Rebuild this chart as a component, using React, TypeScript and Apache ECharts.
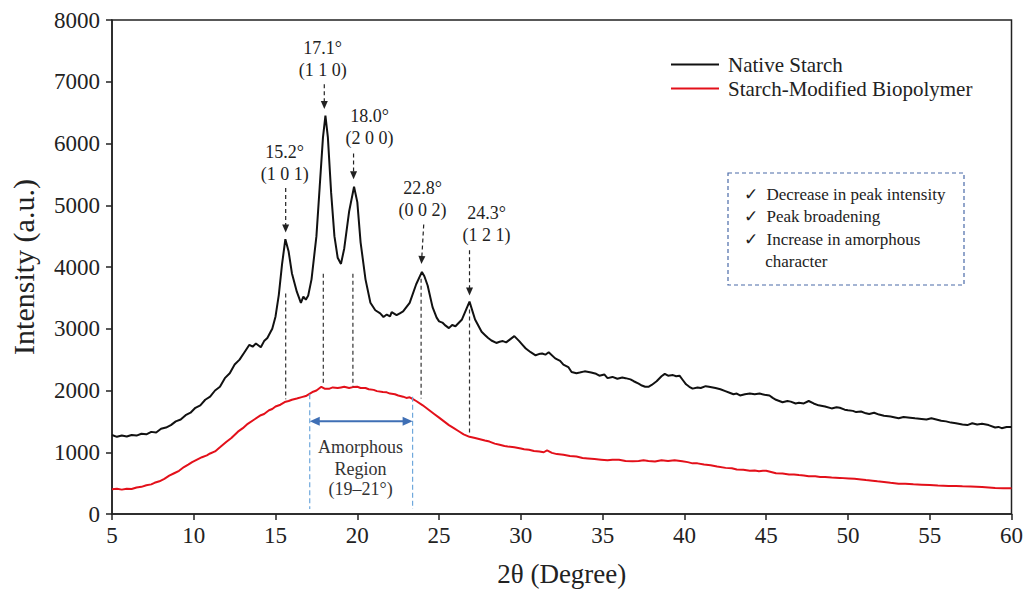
import React, { useEffect, useRef } from "react";
import * as echarts from "echarts";

// 2θ (degree), intensity (a.u.)
const nativeStarch: [number, number][] = [
  [5, 1280], [5.3, 1250], [5.6, 1270], [5.9, 1255], [6.2, 1280], [6.5, 1270], [6.8, 1300], [7.1, 1290],
  [7.4, 1330], [7.7, 1320], [8, 1380], [8.3, 1400], [8.6, 1440], [8.9, 1500], [9.2, 1530], [9.5, 1600],
  [9.8, 1640], [10.1, 1720], [10.4, 1760], [10.7, 1850], [11, 1900], [11.3, 2000], [11.6, 2060],
  [11.9, 2200], [12.2, 2280], [12.5, 2420], [12.8, 2500], [13.1, 2620], [13.4, 2740], [13.6, 2710],
  [13.8, 2760], [14.1, 2700], [14.3, 2800], [14.5, 2850], [14.7, 2950], [14.8, 3000], [15.0, 3200],
  [15.2, 3550], [15.4, 4050], [15.6, 4450], [15.8, 4250], [16.0, 3900], [16.3, 3600], [16.55, 3420],
  [16.7, 3520], [16.85, 3470], [17.0, 3540], [17.2, 3800], [17.5, 4500], [17.7, 5300], [17.9, 6100], [18.05, 6450],
  [18.2, 6100], [18.4, 5200], [18.6, 4500], [18.8, 4150], [19.0, 4050], [19.2, 4300], [19.5, 4900],
  [19.8, 5300], [20.0, 5050], [20.2, 4400], [20.5, 3800], [20.8, 3420], [21.1, 3300], [21.4, 3250],
  [21.6, 3190], [21.8, 3230], [22.0, 3200], [22.1, 3270], [22.4, 3220], [22.6, 3250], [22.8, 3280], [23.2, 3420], [23.6, 3720], [23.95, 3920],
  [24.1, 3850], [24.3, 3700], [24.6, 3350], [24.85, 3180], [25.0, 3120], [25.2, 3100], [25.4, 3050], [25.6, 3010], [25.8, 3060], [26.0, 3040], [26.4, 3150],
  [26.86, 3440], [27.2, 3150], [27.6, 2950], [27.8, 2900], [28.0, 2850], [28.2, 2810], [28.5, 2770], [28.7, 2790], [28.9, 2800], [29.1, 2780], [29.3, 2820],
  [29.6, 2880], [29.9, 2800], [30.1, 2740], [30.3, 2680], [30.6, 2620], [30.9, 2570], [31.1, 2590], [31.3, 2600], [31.5, 2580], [31.7, 2620], [32.1, 2520],
  [32.4, 2480], [32.6, 2420], [32.9, 2380], [33.1, 2300], [33.4, 2280], [33.6, 2290], [33.9, 2310], [34.3, 2290], [34.6, 2270], [34.8, 2240], [35.1, 2260], [35.3, 2200], [35.6, 2220], [35.9, 2190],
  [36.2, 2210], [36.4, 2200], [36.7, 2180], [36.9, 2150], [37.2, 2110], [37.4, 2080], [37.6, 2060], [37.8, 2060], [38.0, 2090], [38.3, 2150], [38.6, 2230], [38.8, 2270], [39.0, 2240], [39.3, 2250],
  [39.5, 2230], [39.7, 2240], [39.9, 2170], [40.1, 2100], [40.3, 2060], [40.5, 2030], [40.8, 2050], [41.0, 2040], [41.3, 2070], [41.5, 2060], [41.9, 2040], [42.2, 2020], [42.5, 1990],
  [42.8, 1960], [43.0, 1940], [43.2, 1950], [43.4, 1920], [43.7, 1940], [44.0, 1950], [44.3, 1940], [44.6, 1950], [44.9, 1930], [45.2, 1920], [45.4, 1880], [45.6, 1850], [45.8, 1830], [46.0, 1810],
  [46.3, 1830], [46.5, 1820], [46.8, 1790], [47.0, 1800], [47.3, 1790], [47.6, 1830], [47.9, 1790], [48.2, 1760], [48.6, 1740], [49.0, 1710], [49.3, 1730], [49.5, 1720], [49.8, 1690], [50.0, 1680],
  [50.3, 1670], [50.5, 1650], [50.8, 1660], [51.1, 1630], [51.3, 1620], [51.6, 1640], [51.9, 1610], [52.2, 1590], [52.6, 1580], [53.1, 1550], [53.4, 1570], [53.8, 1560], [54.1, 1550], [54.5, 1540],
  [54.8, 1530], [55.1, 1550], [55.4, 1530], [55.7, 1510], [56.0, 1500], [56.3, 1480], [56.6, 1470], [57.0, 1450], [57.3, 1440], [57.6, 1470], [57.9, 1450], [58.2, 1460], [58.6, 1440],
  [59.0, 1400], [59.2, 1410], [59.4, 1390], [59.7, 1410], [60, 1410],
];

const modifiedBiopolymer: [number, number][] = [
  [5, 400], [5.3, 410], [5.6, 395], [5.9, 410], [6.2, 405], [6.5, 430], [6.8, 440], [7.1, 465], [7.4, 480], [7.6, 505],
  [7.9, 530], [8.2, 570], [8.5, 620], [8.8, 660], [9.1, 700], [9.4, 760], [9.66, 800], [9.9, 840], [10.2, 880], [10.5, 920],
  [10.8, 950], [11.0, 980], [11.3, 1013], [11.6, 1080], [12.0, 1170], [12.3, 1230], [12.7, 1333], [13.0, 1390], [13.3, 1460],
  [13.7, 1530], [14.1, 1600], [14.3, 1620], [14.6, 1680], [14.8, 1700], [15.0, 1740], [15.3, 1770], [15.56, 1813], [15.8, 1830], [16.0, 1850], [16.3, 1870], [16.6, 1893], [16.85, 1910], [17.1, 1950],
  [17.3, 1980], [17.5, 2000], [17.8, 2060], [18.0, 2030], [18.3, 2030], [18.5, 2050], [18.8, 2040], [19.0, 2050], [19.2, 2060], [19.5, 2040], [19.73, 2055], [20.0, 2060], [20.2, 2040],
  [20.5, 2040], [20.7, 2020], [21.0, 2010], [21.2, 1990], [21.56, 1975], [21.8, 1970], [22.0, 1950], [22.3, 1940], [22.5, 1920], [22.8, 1900], [23.0, 1880], [23.2, 1890], [23.4, 1860], [23.6, 1830],
  [24.0, 1760], [24.4, 1680], [24.7, 1620], [25.0, 1560], [25.3, 1500], [25.6, 1440], [25.9, 1390], [26.2, 1340], [26.5, 1290], [26.86, 1250], [27.2, 1230], [27.5, 1210], [27.8, 1190],
  [28.08, 1173], [28.4, 1140], [28.7, 1120], [29.0, 1100], [29.2, 1093], [29.6, 1080], [30.0, 1060], [30.2, 1050], [30.5, 1040], [30.8, 1020], [31.13, 1013], [31.4, 1000], [31.6, 1030], [31.9, 990],
  [32.2, 970], [32.6, 960], [33.0, 940], [33.4, 930], [33.77, 907], [34.1, 900], [34.5, 890], [34.9, 880], [35.3, 870], [35.6, 880], [36.0, 880], [36.4, 860], [36.83, 853],
  [37.2, 860], [37.5, 870], [37.8, 860], [38.2, 850], [38.6, 870], [39.0, 860], [39.4, 870], [39.87, 853], [40.2, 840], [40.5, 820], [40.8, 820], [41.2, 800], [41.6, 790], [42.0, 770],
  [42.52, 747], [42.9, 740], [43.2, 720], [43.6, 715], [44.0, 700], [44.3, 705], [44.56, 693], [44.8, 700], [45.0, 700], [45.3, 680], [45.6, 660], [46.0, 655], [46.4, 640],
  [46.7, 640], [47.0, 630], [47.3, 625], [47.6, 613], [48.0, 610], [48.3, 600], [48.6, 600], [49.0, 590], [49.5, 585], [50.05, 576], [50.4, 570], [50.8, 560], [51.1, 550], [51.5, 540],
  [51.8, 530], [52.2, 520], [52.6, 505], [53.1, 491], [53.5, 490], [54.0, 480], [54.5, 475], [55.0, 470], [55.5, 460], [56.16, 453], [56.6, 455], [57.0, 450], [57.5, 445], [58.2, 437],
  [58.6, 430], [59.0, 420], [59.5, 415], [60, 416],
];

const seriesNames = ["Native Starch", "Starch-Modified Biopolymer"];
const peakDegreeLabels = ["15.2°", "17.1°", "18.0°", "22.8°", "24.3°"];
const peakPlaneLabels = ["(1 0 1)", "(1 1 0)", "(2 0 0)", "(0 0 2)", "(1 2 1)"];
const noteLines = ["✓  Decrease in peak intensity", "✓  Peak broadening", "✓  Increase in amorphous", "     character"];
const amorphousLabels = ["Amorphous", "Region", "(19–21°)"];

// annotation anchors in data space
const peakAnchors = [
  { text: [15.56, 5870], arrow: [[15.62, 5280], [15.62, 4560]], drop: [15.62, 3570, 1860] },
  { text: [17.88, 7552], arrow: [[17.98, 6960], [17.98, 6560]], drop: [17.92, 3890, 2080] },
  { text: [20.75, 6448], arrow: [[19.77, 5840], [19.77, 5420]], drop: [19.73, 3890, 2064] },
  { text: [23.99, 5280], arrow: [[24.06, 4688], [23.92, 4050]], drop: [23.9, 3810, 1870] },
  { text: [27.9, 4880], arrow: [[26.86, 4272], [26.86, 3540]], drop: [26.86, 3310, 1280] },
];
const amorphousSpan = { left: 17.09, right: 23.38, topLeft: 1940, topRight: 1900, bottom: 80, arrowY: 1504, textX: 20.2, textY: [1088, 736, 400] };

const SERIF = '"Liberation Serif", "Times New Roman", serif';

function arrowHead(x: number, y: number, dx: number, dy: number, color: string, len = 8, half = 3.5) {
  const l = Math.hypot(dx, dy) || 1;
  const ux = dx / l, uy = dy / l;
  const bx = x - ux * len, by = y - uy * len;
  return {
    type: "polygon",
    silent: true,
    shape: { points: [[x, y], [bx - uy * half, by + ux * half], [bx + uy * half, by - ux * half]] },
    style: { fill: color },
    z: 100,
  };
}

export default function App() {
  const ref = useRef<HTMLDivElement>(null);
  useEffect(() => {
    document.body.style.margin = "0";
    const chart = echarts.init(ref.current!, undefined, { renderer: "svg" });
    chart.setOption({
      animation: false,
      backgroundColor: "#fff",
      grid: { left: 112, right: 13, top: 20, bottom: 72, show: true, borderColor: "#222", borderWidth: 1.5 },
      legend: {
        orient: "vertical",
        left: 666,
        top: 49,
        itemWidth: 48,
        itemHeight: 2,
        itemGap: 3,
        icon: "rect",
        textStyle: { fontFamily: SERIF, fontSize: 21, color: "#222", padding: [0, 0, 0, 4] },
        data: seriesNames,
      },
      xAxis: {
        type: "value",
        min: 5,
        max: 60,
        interval: 5,
        name: "2θ (Degree)",
        nameLocation: "middle",
        nameGap: 46,
        nameTextStyle: { fontFamily: SERIF, fontSize: 27, color: "#222" },
        axisLine: { lineStyle: { color: "#222", width: 1.5 } },
        axisTick: { show: true, length: 6, lineStyle: { color: "#222", width: 1.5 } },
        axisLabel: { fontFamily: SERIF, fontSize: 23, color: "#222", margin: 10 },
        splitLine: { show: false },
      },
      yAxis: {
        type: "value",
        min: 0,
        max: 8000,
        interval: 1000,
        name: "Intensity (a.u.)",
        nameLocation: "middle",
        nameGap: 74,
        nameTextStyle: { fontFamily: SERIF, fontSize: 30, color: "#222" },
        axisLine: { show: true, lineStyle: { color: "#222", width: 1.5 } },
        axisTick: { show: true, length: 6, lineStyle: { color: "#222", width: 1.5 } },
        axisLabel: { fontFamily: SERIF, fontSize: 23, color: "#222", margin: 12, formatter: (v: number) => String(v) },
        splitLine: { show: false },
      },
      series: [
        {
          name: seriesNames[0],
          type: "line",
          data: nativeStarch,
          showSymbol: false,
          color: "#111",
          lineStyle: { color: "#111", width: 2 },
          z: 3,
        },
        {
          name: seriesNames[1],
          type: "line",
          data: modifiedBiopolymer,
          showSymbol: false,
          color: "#e3101a",
          lineStyle: { color: "#e3101a", width: 2 },
          z: 2,
        },
      ],
    });

    const px = (x: number, y: number) => chart.convertToPixel({ gridIndex: 0 }, [x, y]) as number[];
    const g: any[] = [];
    const textColor = "#222";

    peakAnchors.forEach((a, i) => {
      const t = px(a.text[0], a.text[1]);
      g.push({ type: "text", silent: true, z: 100, style: { text: peakDegreeLabels[i], x: t[0], y: t[1], align: "center", verticalAlign: "middle", fontFamily: SERIF, fontSize: 18, fill: textColor } });
      g.push({ type: "text", silent: true, z: 100, style: { text: peakPlaneLabels[i], x: t[0], y: t[1] + 22, align: "center", verticalAlign: "middle", fontFamily: SERIF, fontSize: 18, fill: textColor } });
      const p1 = px(a.arrow[0][0], a.arrow[0][1]);
      const p2 = px(a.arrow[1][0], a.arrow[1][1]);
      const dx = p2[0] - p1[0], dy = p2[1] - p1[1];
      const l = Math.hypot(dx, dy);
      g.push({ type: "line", silent: true, z: 100, shape: { x1: p1[0], y1: p1[1], x2: p2[0] - (dx / l) * 6, y2: p2[1] - (dy / l) * 6 }, style: { stroke: "#222", lineWidth: 1.2, lineDash: [4, 3] } });
      g.push(arrowHead(p2[0], p2[1], dx, dy, "#222"));
      const d1 = px(a.drop[0], a.drop[1]);
      const d2 = px(a.drop[0], a.drop[2]);
      g.push({ type: "line", silent: true, z: 100, shape: { x1: d1[0], y1: d1[1], x2: d2[0], y2: d2[1] }, style: { stroke: "#333", lineWidth: 1.2, lineDash: [4, 3] } });
    });

    const s = amorphousSpan;
    const lt = px(s.left, s.topLeft), lb = px(s.left, s.bottom);
    const rt = px(s.right, s.topRight), rb = px(s.right, s.bottom);
    g.push({ type: "line", silent: true, z: 100, shape: { x1: lt[0], y1: lt[1], x2: lb[0], y2: lb[1] }, style: { stroke: "#6fa8dc", lineWidth: 1.2, lineDash: [5, 3] } });
    g.push({ type: "line", silent: true, z: 100, shape: { x1: rt[0], y1: rt[1], x2: rb[0], y2: rb[1] }, style: { stroke: "#6fa8dc", lineWidth: 1.2, lineDash: [5, 3] } });
    const al = px(s.left, s.arrowY), ar = px(s.right, s.arrowY);
    g.push({ type: "line", silent: true, z: 100, shape: { x1: al[0] + 6, y1: al[1], x2: ar[0] - 6, y2: ar[1] }, style: { stroke: "#3f6fb5", lineWidth: 2 } });
    g.push(arrowHead(ar[0], ar[1], 1, 0, "#3f6fb5", 10, 4.5));
    g.push(arrowHead(al[0], al[1], -1, 0, "#3f6fb5", 10, 4.5));
    s.textY.forEach((ty, i) => {
      const p = px(s.textX, ty);
      g.push({ type: "text", silent: true, z: 100, style: { text: amorphousLabels[i], x: p[0], y: p[1], align: "center", verticalAlign: "middle", fontFamily: SERIF, fontSize: 18, fill: "#333" } });
    });

    // callout box
    g.push({ type: "rect", silent: true, z: 100, shape: { x: 728, y: 173, width: 236, height: 112 }, style: { fill: "#fff", stroke: "#4a6aa8", lineWidth: 1.2, lineDash: [4, 3] } });
    noteLines.forEach((line, i) => {
      g.push({ type: "text", silent: true, z: 101, style: { text: line, x: 744, y: 194 + i * 22.5, align: "left", verticalAlign: "middle", fontFamily: SERIF, fontSize: 17, fill: "#222" } });
    });

    chart.setOption({ graphic: g });
    return () => chart.dispose();
  }, []);
  return <div ref={ref} style={{ width: 1026, height: 592 }} />;
}
